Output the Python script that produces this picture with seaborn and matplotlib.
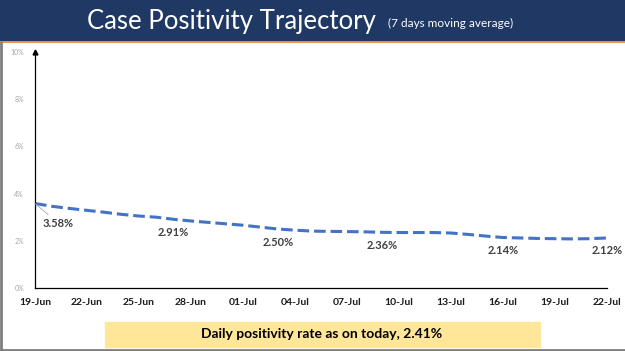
import pandas as pd
import seaborn as sns
import matplotlib.pyplot as plt
from matplotlib.patches import Rectangle
from matplotlib.lines import Line2D

# daily 7-day moving average positivity (%), 19-Jun .. 22-Jul
dates = pd.date_range("2020-06-19", "2020-07-22", freq="D")
positivity = [3.58, 3.46, 3.37, 3.29, 3.21, 3.12, 3.05, 3.00, 2.91, 2.84,
              2.78, 2.72, 2.66, 2.58, 2.50, 2.45, 2.41, 2.40, 2.39, 2.38,
              2.36, 2.35, 2.35, 2.35, 2.33, 2.27, 2.20, 2.14, 2.12, 2.10,
              2.09, 2.08, 2.09, 2.12]
label_days = [0, 8, 14, 20, 27, 33]
tick_labels = ["19-Jun", "22-Jun", "25-Jun", "28-Jun", "01-Jul", "04-Jul",
               "07-Jul", "10-Jul", "13-Jul", "16-Jul", "19-Jul", "22-Jul"]
y_ticks = [0, 2, 4, 6, 8, 10]

df = pd.DataFrame({"day": range(len(dates)), "date": dates, "rate": positivity})

sns.set_style("white")
plt.rcParams["font.family"] = ["Lato", "DejaVu Sans"]

fig = plt.figure(figsize=(6.25, 3.51), dpi=100)

# title banner
fig.patches.append(Rectangle((0, 1 - 40 / 351), 1, 40 / 351, transform=fig.transFigure,
                             color="#1F3864", zorder=0))
fig.lines.append(Line2D([0, 1], [1 - 41.5 / 351] * 2, transform=fig.transFigure,
                        color="#ED7D31", lw=1.2))
fig.text(0.139, 1 - 21 / 351, "Case Positivity Trajectory", color="white",
         fontsize=18.5, va="center", ha="left")
fig.text(0.621, 1 - 23 / 351, "(7 days moving average)", color="white",
         fontsize=8.5, va="center", ha="left")

# slide frame
fig.lines.append(Line2D([0.002, 0.002], [0, 1 - 42 / 351], transform=fig.transFigure,
                        color="#7F7F7F", lw=2))
fig.lines.append(Line2D([0, 1], [0.004, 0.004], transform=fig.transFigure,
                        color="#7F7F7F", lw=2))

ax = fig.add_axes([35 / 625, 1 - 288 / 351, (607 - 35) / 625, (288 - 52) / 351])
sns.lineplot(data=df, x="day", y="rate", ax=ax, color="#4472C4", lw=2.2)
ax.lines[0].set_dashes((3.8, 1.6))

ax.set_xlim(0, len(dates) - 1)
ax.set_ylim(0, 10)
ax.set_xticks(range(0, len(dates), 3))
ax.set_xticklabels(tick_labels, fontsize=7.5, fontweight="bold", color="#1A1A1A")
ax.set_yticks(y_ticks)
ax.set_yticklabels([f"{v}%" for v in y_ticks], fontsize=5, color="#A6A6A6")
ax.tick_params(axis="x", direction="out", length=5, width=0.8, color="black", pad=2)
ax.tick_params(axis="y", length=0, pad=8)
ax.set_xlabel("")
ax.set_ylabel("")
for side in ["top", "right"]:
    ax.spines[side].set_visible(False)
for side in ["left", "bottom"]:
    ax.spines[side].set_color("black")
    ax.spines[side].set_linewidth(0.9)
ax.plot([0], [1], marker="^", color="black", markersize=3.5,
        transform=ax.transAxes, clip_on=False)

# value labels
for d in label_days:
    v = positivity[d]
    if d == 0:
        ax.annotate(f"{v:.2f}%", xy=(d, v), xytext=(8, -20), textcoords="offset pixels",
                    fontsize=8, fontweight="bold", color="#404040", va="center", ha="left",
                    arrowprops=dict(arrowstyle="-", color="#A6A6A6", lw=0.6,
                                    shrinkA=0, shrinkB=0))
    else:
        ax.annotate(f"{v:.2f}%", xy=(d, v), xytext=(0, -13), textcoords="offset pixels",
                    fontsize=8, fontweight="bold", color="#404040", va="center", ha="center",
                    annotation_clip=False)

# bottom note
fig.patches.append(Rectangle((105 / 625, 4 / 351), (540 - 105) / 625, 25 / 351,
                             transform=fig.transFigure, color="#FFE699", zorder=0))
fig.text(322 / 625, 1 - 334 / 351, "Daily positivity rate as on today, 2.41%",
         fontsize=10, fontweight="bold", color="black", ha="center", va="center")

fig.savefig("out.png", dpi=100)
